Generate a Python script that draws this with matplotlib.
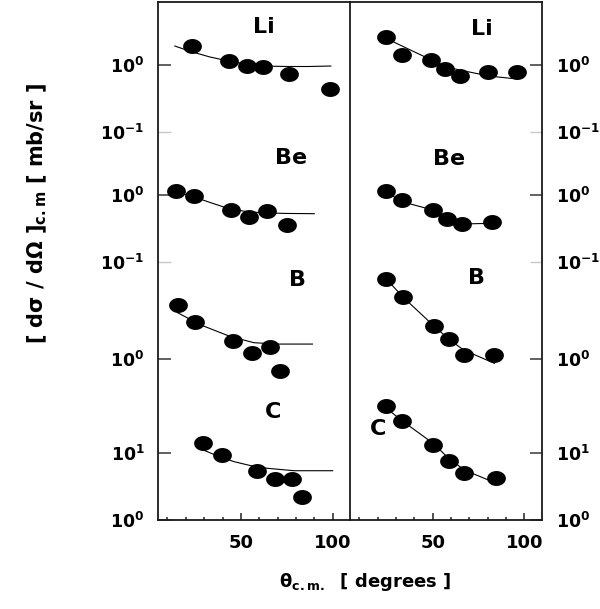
import matplotlib.pyplot as plt
from matplotlib.path import Path
import numpy as np

plt.rcParams['font.family'] = 'DejaVu Sans'
plt.rcParams['font.weight'] = 'bold'
plt.rcParams['mathtext.fontset'] = 'dejavusans'
plt.rcParams['mathtext.default'] = 'bf'

# multiplicative offsets that stack the four nuclei on one log axis
shift = {"Li": 10**6.791, "Be": 10**4.851, "B": 10**2.403, "C": 1.0}

# ---- left column: data points and fitted curves (mb/sr) ----
left_li_x = [23.6, 43.3, 53.1, 62.1, 76.3, 98.6]
left_li_y = [1.92, 1.16, 0.966, 0.943, 0.734, 0.434]
left_li_fx = [14, 23, 33, 43, 53, 62, 75, 87, 99]
left_li_fy = [1.92, 1.58, 1.32, 1.15, 1.03, 0.966, 0.95, 0.95, 0.966]

left_be_x = [14.5, 24.5, 44.5, 54.2, 64.1, 75.0]
left_be_y = [1.15, 0.966, 0.597, 0.465, 0.577, 0.357]
left_be_fx = [15, 24.5, 34, 44.5, 55, 65, 75, 90]
left_be_fy = [1.11, 0.934, 0.76, 0.612, 0.557, 0.539, 0.530, 0.526]

left_b_x = [15.5, 25.1, 45.8, 55.8, 65.8, 71.2]
left_b_y = [6.40, 3.53, 1.88, 1.22, 1.53, 0.662]
left_b_fx = [15.5, 28.2, 44.5, 57.2, 70, 89]
left_b_fy = [4.91, 3.22, 2.15, 1.75, 1.67, 1.67]

left_c_x = [29.5, 39.5, 58.7, 68.5, 77.8, 83.2]
left_c_y = [14.25, 9.24, 5.39, 4.05, 4.05, 2.18]
left_c_fx = [29.5, 38, 46.3, 55, 64.5, 79, 100]
left_c_fy = [11.08, 8.87, 7.42, 6.51, 5.91, 5.44, 5.44]

# ---- right column ----
right_li_x = [24.6, 33.3, 49.3, 56.9, 64.7, 80.2, 96.0]
right_li_y = [2.65, 1.41, 1.19, 0.872, 0.685, 0.794, 0.794]
right_li_fx = [24.6, 33.3, 49.3, 56.9, 64.7, 80.6, 96]
right_li_fy = [2.50, 1.92, 1.19, 0.943, 0.842, 0.685, 0.618]

right_be_x = [24.6, 33.3, 50.0, 57.8, 66.0, 82.4]
right_be_y = [1.15, 0.842, 0.597, 0.443, 0.365, 0.391]
right_be_fx = [24.6, 33.3, 50, 58, 66, 82.4]
right_be_fy = [1.11, 0.794, 0.597, 0.465, 0.369, 0.378]

right_b_x = [24.8, 33.6, 50.5, 58.7, 66.9, 83.6]
right_b_y = [15.6, 8.51, 3.14, 1.99, 1.15, 1.15]
right_b_fx = [24.8, 33.6, 50.5, 58.7, 66.9, 83.6]
right_b_fy = [15.6, 8.51, 3.14, 1.99, 1.36, 0.863]

right_c_x = [24.8, 33.3, 50.2, 58.7, 67.3, 84.6]
right_c_y = [50.3, 30.3, 13.2, 7.60, 5.08, 4.28]
right_c_fx = [24.8, 33.3, 50.2, 58.7, 67.3, 84.6]
right_c_fy = [46.5, 30.3, 13.96, 8.33, 5.57, 3.53]

# dark ticks at the reference levels, light ticks at the panel boundaries
ytick_major = [shift["Li"], shift["Be"], shift["B"], 10.0, 1.0]
ytick_major_labels = ["$10^{0}$", "$10^{0}$", "$10^{0}$", "$10^{1}$", "$10^{0}$"]
ytick_minor = [shift["Li"] * 0.1, shift["Be"] * 0.1]
ytick_minor_labels = ["$10^{-1}$", "$10^{-1}$"]

# panel labels: (x data, y axes fraction)
left_labels = {"Li": (62.5, 0.952), "Be": (77.2, 0.699), "B": (81, 0.463), "C": (67.4, 0.209)}
right_labels = {"Li": (76.6, 0.947), "Be": (58.7, 0.696), "B": (74, 0.468), "C": (20.1, 0.175)}

t = np.linspace(0, 2 * np.pi, 40)
ellipse = Path(np.column_stack([np.cos(t), 0.78 * np.sin(t)]), closed=True)

fig = plt.figure(figsize=(6, 6.09), dpi=100)
ax_l = fig.add_axes([158.3 / 600, 89 / 609, 191.8 / 600, 518 / 609])
ax_r = fig.add_axes([350.1 / 600, 89 / 609, 191.8 / 600, 518 / 609])

left = [(left_li_x, left_li_y, left_li_fx, left_li_fy, "Li"),
        (left_be_x, left_be_y, left_be_fx, left_be_fy, "Be"),
        (left_b_x, left_b_y, left_b_fx, left_b_fy, "B"),
        (left_c_x, left_c_y, left_c_fx, left_c_fy, "C")]
right = [(right_li_x, right_li_y, right_li_fx, right_li_fy, "Li"),
         (right_be_x, right_be_y, right_be_fx, right_be_fy, "Be"),
         (right_b_x, right_b_y, right_b_fx, right_b_fy, "B"),
         (right_c_x, right_c_y, right_c_fx, right_c_fy, "C")]

for ax, sets, labels, side in [(ax_l, left, left_labels, "left"),
                               (ax_r, right, right_labels, "right")]:
    ax.patch.set_visible(False)
    ax.set_yscale("log")
    for x, y, fx, fy, name in sets:
        k = shift[name]
        ax.plot(fx, np.array(fy) * k, color="black", lw=0.8, zorder=2)
        ax.plot(x, np.array(y) * k, ls="none", marker=ellipse, ms=12.5,
                mfc="black", mec="black", zorder=3)
    for name, (tx, ty) in labels.items():
        ax.text(tx, ty, name, transform=ax.get_xaxis_transform(),
                ha="center", va="center", fontsize=16, fontweight="bold")

    ax.set_xlim(5, 109.5)
    ax.set_ylim(1, 10**(518 / 67))
    ax.set_xticks([50, 100])
    ax.set_xticklabels(["50", "100"])
    ax.set_xticks([10, 20, 30, 40, 60, 70, 80, 90], minor=True)
    ax.tick_params(axis="x", which="major", direction="in", length=5, width=1.2,
                   color="#333333", labelsize=13, pad=10)
    ax.tick_params(axis="x", which="minor", direction="in", length=2.5, width=1.2,
                   color="#333333")
    ax.xaxis.set_ticks_position("bottom")

    ax.set_yticks(ytick_major)
    ax.set_yticklabels(ytick_major_labels)
    ax.set_yticks(ytick_minor, minor=True)
    ax.set_yticklabels(ytick_minor_labels, minor=True)
    ax.yaxis.set_ticks_position(side)
    ax.tick_params(axis="y", which="major", direction="in", length=9, width=1.3,
                   color="#555555", labelsize=12.5, pad=10)
    ax.tick_params(axis="y", which="minor", direction="in", length=9, width=1.0,
                   color="#c8c8c8", labelsize=12.5, pad=10)

    for sp in ax.spines.values():
        sp.set_linewidth(1.3)
        sp.set_color("#1a1a1a")

ax_r.spines["left"].set_visible(False)

fig.text(37 / 600, 1 - 213 / 609, "[ dσ / dΩ ]$_{c.m}$ [ mb/sr ]", rotation=90,
         ha="center", va="center", fontsize=15, fontweight="bold")
fig.text(365 / 600, 1 - 582 / 609, "θ$_{c.m.}$  [ degrees ]",
         ha="center", va="center", fontsize=13, fontweight="bold")

fig.savefig("out.png", dpi=100)
